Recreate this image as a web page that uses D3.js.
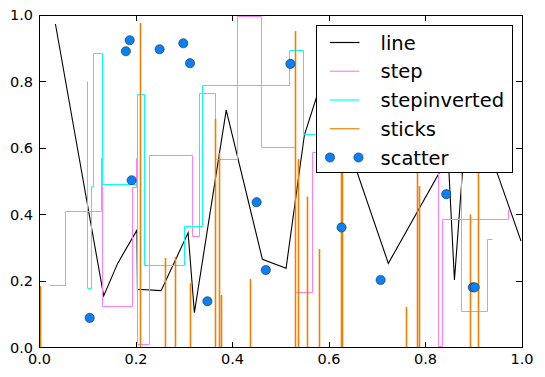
<!DOCTYPE html>
<html>
<head>
<meta charset="utf-8">
<script src="https://cdn.jsdelivr.net/npm/d3@7"></script>
<style>
  body { margin: 0; background: #fff; }
  svg { display: block; font-family: "DejaVu Sans", sans-serif; }
</style>
</head>
<body>
<svg id="chart" width="545" height="377"></svg>
<script>
// line series
const lineX = [0.033, 0.133, 0.162, 0.202, 0.203, 0.252, 0.308, 0.321, 0.387, 0.462, 0.511, 0.549, 0.589, 0.723, 0.847, 0.860, 0.889, 0.998];
const lineY = [0.973, 0.155, 0.253, 0.353, 0.175, 0.171, 0.345, 0.105, 0.714, 0.265, 0.238, 0.639, 0.820, 0.253, 0.573, 0.203, 0.771, 0.320];

// step series (level changes at each x)
const stepX = [0.021, 0.053, 0.128, 0.131, 0.192, 0.200, 0.204, 0.228, 0.318, 0.332, 0.364, 0.411, 0.460, 0.530, 0.566, 0.827, 0.836, 0.972];
const stepY = [0.185, 0.408, 0.567, 0.122, 0.480, 0.567, 0.008, 0.576, 0.333, 0.765, 0.564, 0.995, 0.602, 0.166, 0.587, 0.003, 0.386, 0.414];

// stepinverted series
const invX = [0.0988, 0.107, 0.112, 0.131, 0.204, 0.218, 0.301, 0.338, 0.518, 0.547, 0.875, 0.929, 0.939];
const invY = [0.799, 0.176, 0.484, 0.885, 0.489, 0.762, 0.248, 0.363, 0.788, 0.893, 0.641, 0.108, 0.325];

// sticks
const stickX = [0.002, 0.209, 0.261, 0.282, 0.313, 0.365, 0.373, 0.377, 0.437, 0.531, 0.537, 0.555, 0.580, 0.625, 0.629, 0.760, 0.783, 0.787, 0.894, 0.910];
const stickY = [0.185, 0.977, 0.269, 0.272, 0.193, 0.687, 0.584, 0.158, 0.206, 0.952, 0.567, 0.454, 0.296, 0.650, 0.580, 0.122, 0.620, 0.486, 0.400, 0.700];

// scatter
const scatX = [0.104, 0.191, 0.179, 0.187, 0.249, 0.298, 0.312, 0.348, 0.450, 0.469, 0.520, 0.626, 0.707, 0.843, 0.898, 0.902];
const scatY = [0.089, 0.503, 0.891, 0.924, 0.897, 0.915, 0.855, 0.139, 0.437, 0.233, 0.853, 0.361, 0.203, 0.461, 0.181, 0.181];

const ticks = [0, 0.2, 0.4, 0.6, 0.8, 1.0];
const legendLabels = ["line", "step", "stepinverted", "sticks", "scatter"];

const colors = {
    line: "#000000",
    step: "#ff80ff",
    stepinverted: "#00ffff",
    sticks: "#f07f00",
    scatter: "#0a80f5"
};

const svg = d3.select("#chart");
const x = d3.scaleLinear().domain([0, 1]).range([39.5, 522]);
const y = d3.scaleLinear().domain([0, 1]).range([347.5, 15]);

// snap to pixel centres so 1px horizontal/vertical strokes stay sharp
const sx = v => Math.round(x(v) - 0.5) + 0.5;
const sy = v => Math.round(y(v) - 0.5) + 0.5;

svg.append("defs").append("clipPath").attr("id", "plot-clip")
    .append("rect")
    .attr("x", x(0) - 1).attr("y", y(1))
    .attr("width", x(1) - x(0) + 1).attr("height", y(0) - y(1));

const plot = svg.append("g").attr("clip-path", "url(#plot-clip)");

const zip = (xs, ys) => xs.map((v, i) => [v, ys[i]]);

plot.append("path")
    .datum(zip(lineX, lineY))
    .attr("fill", "none").attr("stroke", colors.line).attr("stroke-width", 1.1)
    .attr("d", d3.line().x(d => x(d[0])).y(d => y(d[1])));

plot.append("path")
    .datum(zip(stepX, stepY))
    .attr("fill", "none").attr("stroke", colors.step).attr("stroke-width", 1)
    .attr("d", d3.line().curve(d3.curveStepAfter).x(d => sx(d[0])).y(d => sy(d[1])));

plot.append("path")
    .datum(zip(invX, invY))
    .attr("fill", "none").attr("stroke", colors.stepinverted).attr("stroke-width", 1)
    .attr("d", d3.line().curve(d3.curveStepBefore).x(d => sx(d[0])).y(d => sy(d[1])));

plot.selectAll(".stick")
    .data(zip(stickX, stickY))
    .join("line")
    .attr("class", "stick")
    .attr("x1", d => sx(d[0])).attr("x2", d => sx(d[0]))
    .attr("y1", y(0)).attr("y2", d => y(d[1]))
    .attr("stroke", colors.sticks).attr("stroke-width", 1.6);

plot.selectAll(".dot")
    .data(zip(scatX, scatY))
    .join("circle")
    .attr("class", "dot")
    .attr("cx", d => x(d[0])).attr("cy", d => y(d[1]))
    .attr("r", 4.6)
    .attr("fill", colors.scatter)
    .attr("stroke", "#1a2a40").attr("stroke-width", 0.6);

// axes: ticks point inward on all four sides
const tickLen = 6;
const axes = svg.append("g").attr("shape-rendering", "crispEdges");

axes.append("rect")
    .attr("x", x(0)).attr("y", y(1))
    .attr("width", x(1) - x(0)).attr("height", y(0) - y(1))
    .attr("fill", "none").attr("stroke", "#000").attr("stroke-width", 1);

ticks.forEach(t => {
    axes.append("line").attr("x1", x(t)).attr("x2", x(t))
        .attr("y1", y(0)).attr("y2", y(0) - tickLen).attr("stroke", "#000");
    axes.append("line").attr("x1", x(t)).attr("x2", x(t))
        .attr("y1", y(1)).attr("y2", y(1) + tickLen).attr("stroke", "#000");
    axes.append("line").attr("y1", y(t)).attr("y2", y(t))
        .attr("x1", x(0)).attr("x2", x(0) + tickLen).attr("stroke", "#000");
    axes.append("line").attr("y1", y(t)).attr("y2", y(t))
        .attr("x1", x(1)).attr("x2", x(1) - tickLen).attr("stroke", "#000");

    axes.append("text")
        .attr("x", x(t)).attr("y", 364)
        .attr("text-anchor", "middle")
        .attr("font-size", 14.5)
        .text(t.toFixed(1));
    axes.append("text")
        .attr("x", 33).attr("y", y(t)).attr("dy", "0.36em")
        .attr("text-anchor", "end")
        .attr("font-size", 14.5)
        .text(t.toFixed(1));
});

// legend
const legend = svg.append("g");
legend.append("rect")
    .attr("x", 316.5).attr("y", 25)
    .attr("width", 196).attr("height", 147)
    .attr("fill", "#fff").attr("stroke", "#000").attr("stroke-width", 1)
    .attr("shape-rendering", "crispEdges");

const rowY = d3.scaleLinear().domain([0, legendLabels.length - 1]).range([42.5, 157.5]);

legendLabels.forEach((name, i) => {
    const ry = rowY(i);
    if (name === "scatter") {
        [330, 358.5].forEach(cx => {
            legend.append("circle")
                .attr("cx", cx).attr("cy", ry).attr("r", 4.6)
                .attr("fill", colors.scatter)
                .attr("stroke", "#1a2a40").attr("stroke-width", 0.6);
        });
    } else {
        legend.append("line")
            .attr("x1", 330).attr("x2", 359.5)
            .attr("y1", ry).attr("y2", ry)
            .attr("stroke", colors[name]).attr("stroke-width", 1.2);
    }
    legend.append("text")
        .attr("x", 380.5).attr("y", ry + 7)
        .attr("font-size", 19.5)
        .text(name);
});
</script>
</body>
</html>
